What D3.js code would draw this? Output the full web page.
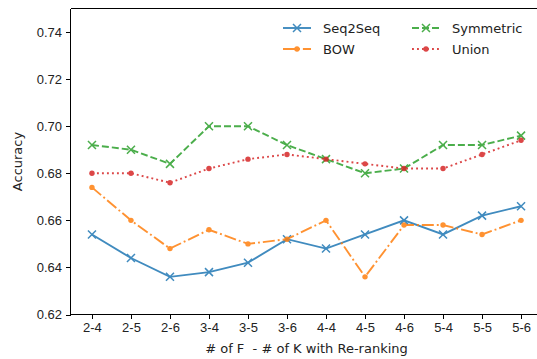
<!DOCTYPE html>
<html lang="en">
<head>
<meta charset="UTF-8">
<title>Accuracy with Re-ranking</title>
<script src="https://d3js.org/d3.v7.min.js"></script>
<style>
  body { margin: 0; background: #fff; }
  svg { display: block; font-family: "DejaVu Sans", sans-serif; }
  .axis path, .axis line { stroke: #000; stroke-width: 1; shape-rendering: crispEdges; }
  .axis text { font-size: 13px; fill: #222; }
</style>
</head>
<body>
<svg width="537" height="359"></svg>
<script>
var categories = ["2-4", "2-5", "2-6", "3-4", "3-5", "3-6", "4-4", "4-5", "4-6", "5-4", "5-5", "5-6"];
var seq2seq   = [0.654, 0.644, 0.636, 0.638, 0.642, 0.652, 0.648, 0.654, 0.660, 0.654, 0.662, 0.666];
var bow       = [0.674, 0.660, 0.648, 0.656, 0.650, 0.652, 0.660, 0.636, 0.658, 0.658, 0.654, 0.660];
var symmetric = [0.692, 0.690, 0.684, 0.700, 0.700, 0.692, 0.686, 0.680, 0.682, 0.692, 0.692, 0.696];
var union     = [0.680, 0.680, 0.676, 0.682, 0.686, 0.688, 0.686, 0.684, 0.682, 0.682, 0.688, 0.694];
var yTicks = [0.62, 0.64, 0.66, 0.68, 0.70, 0.72, 0.74];

// line styles, matplotlib-ish
var series = [
  {name: "Seq2Seq",   values: seq2seq,   color: "#1f77b4", dash: null,         marker: "x"},
  {name: "BOW",       values: bow,       color: "#ff7f0e", dash: "12,3,1.9,3", marker: "dot"},
  {name: "Symmetric", values: symmetric, color: "#2ca02c", dash: "7,3",        marker: "x"},
  {name: "Union",     values: union,     color: "#d62728", dash: "1.9,3.1",    marker: "dot"}
];

var plotL = 70.5, plotR = 542.5, plotT = 8.5, plotB = 314.5;

var x = d3.scalePoint().domain(categories).range([plotL, plotR]).padding(0.55);
var y = d3.scaleLinear().domain([0.62, 0.75]).range([plotB, plotT]);

var svg = d3.select("svg");

var line = d3.line().x(function(d, i) { return x(categories[i]); }).y(function(d) { return y(d); });

function drawMarker(g, type, cx, cy, color) {
  if (type === "x") {
    var s = 4;
    g.append("path")
      .attr("d", "M" + (cx - s) + "," + (cy - s) + "L" + (cx + s) + "," + (cy + s) +
                 "M" + (cx - s) + "," + (cy + s) + "L" + (cx + s) + "," + (cy - s))
      .attr("stroke", color).attr("stroke-width", 1.5).attr("fill", "none");
  } else {
    g.append("circle").attr("cx", cx).attr("cy", cy).attr("r", 2.7).attr("fill", color);
  }
}

series.forEach(function(s) {
  var g = svg.append("g").attr("opacity", 0.85);
  g.append("path")
    .datum(s.values)
    .attr("d", line)
    .attr("fill", "none")
    .attr("stroke", s.color)
    .attr("stroke-width", 1.9)
    .attr("stroke-dasharray", s.dash);
  s.values.forEach(function(v, i) {
    drawMarker(g, s.marker, x(categories[i]), y(v), s.color);
  });
});

// axes
svg.append("g")
  .attr("class", "axis")
  .attr("transform", "translate(0," + plotB + ")")
  .call(d3.axisBottom(x).tickSizeOuter(0).tickSize(4.5).tickPadding(4))
  .call(function(g) { g.select(".domain").attr("d", "M" + plotL + ",0H" + plotR); });

svg.append("g")
  .attr("class", "axis")
  .attr("transform", "translate(" + plotL + ",0)")
  .call(d3.axisLeft(y).tickValues(yTicks).tickFormat(d3.format(".2f")).tickSizeOuter(0).tickSize(4.5).tickPadding(4))
  .call(function(g) { g.select(".domain").attr("d", "M0," + plotT + "V" + plotB); });

svg.append("line")
  .attr("x1", plotL).attr("x2", plotR).attr("y1", plotT).attr("y2", plotT)
  .attr("stroke", "#000").attr("stroke-width", 1).attr("shape-rendering", "crispEdges");
svg.append("line")
  .attr("x1", plotR).attr("x2", plotR).attr("y1", plotT).attr("y2", plotB)
  .attr("stroke", "#000").attr("stroke-width", 1).attr("shape-rendering", "crispEdges");

// axis labels
svg.append("text")
  .attr("x", (plotL + plotR) / 2).attr("y", 353)
  .attr("text-anchor", "middle").attr("font-size", 13).attr("fill", "#222")
  .attr("xml:space", "preserve")
  .text("# of F  - # of K with Re-ranking");

svg.append("text")
  .attr("transform", "translate(22," + (plotT + plotB) / 2 + ") rotate(-90)")
  .attr("text-anchor", "middle").attr("font-size", 13).attr("fill", "#222")
  .text("Accuracy");

// legend, 2 columns
var legendPos = [[283, 28], [283, 49], [412, 28], [412, 49]];
series.forEach(function(s, i) {
  var lx = legendPos[i][0], ly = legendPos[i][1];
  var g = svg.append("g").attr("opacity", 0.85);
  g.append("line")
    .attr("x1", lx).attr("x2", lx + 28).attr("y1", ly).attr("y2", ly)
    .attr("stroke", s.color).attr("stroke-width", 1.9)
    .attr("stroke-dasharray", s.dash);
  drawMarker(g, s.marker, lx + 14, ly, s.color);
  svg.append("text")
    .attr("x", lx + 40).attr("y", ly).attr("dy", "0.35em")
    .attr("font-size", 13).attr("fill", "#222")
    .text(s.name);
});
</script>
</body>
</html>
